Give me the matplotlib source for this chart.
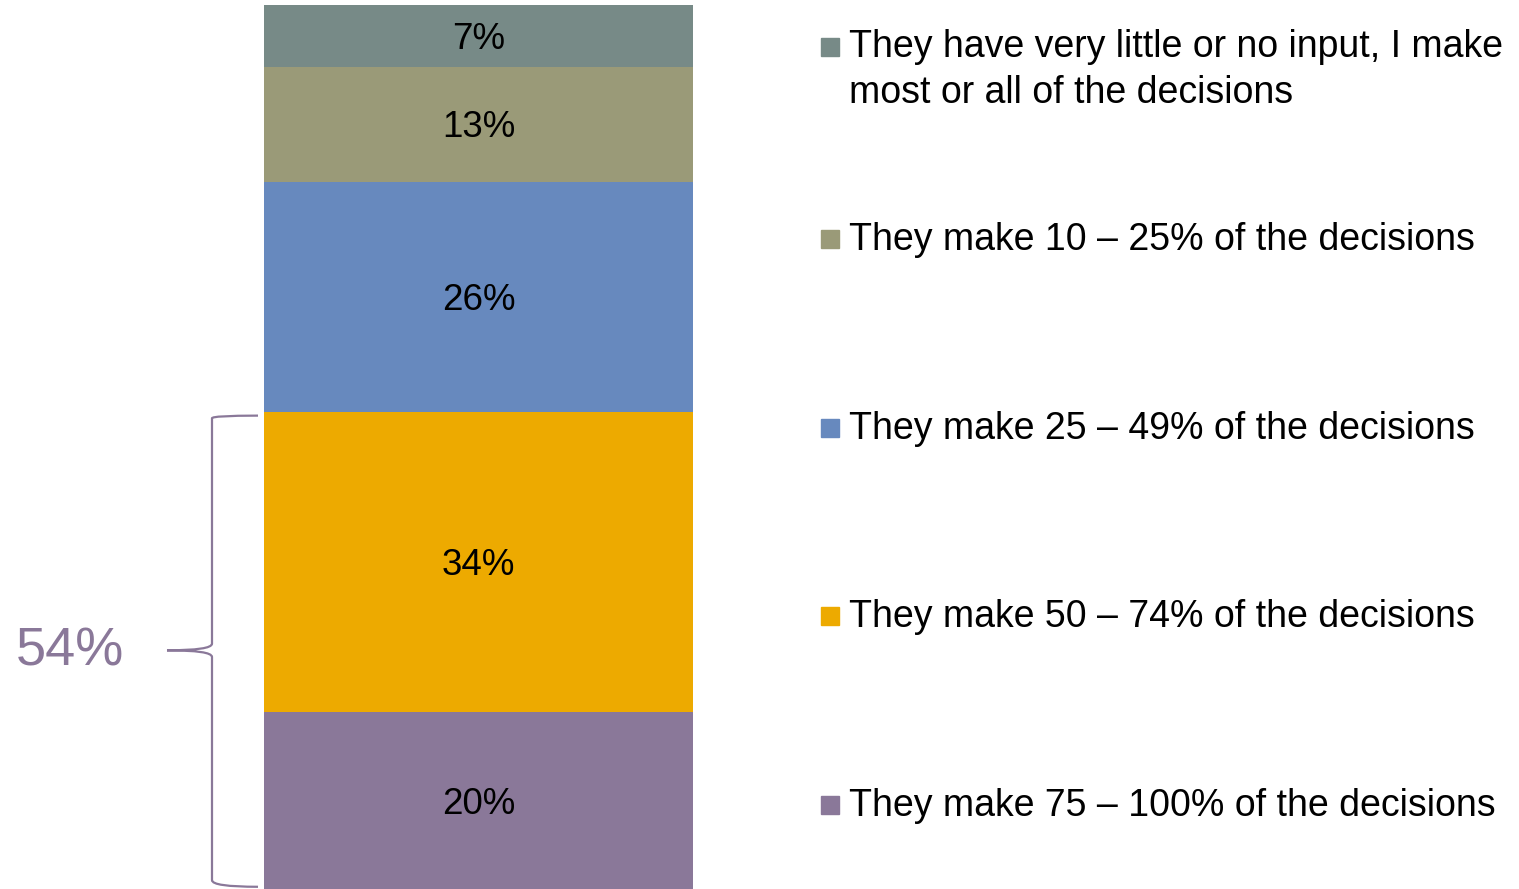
import matplotlib
matplotlib.use("Agg")
import matplotlib.pyplot as plt
from matplotlib.path import Path
from matplotlib.patches import PathPatch, Rectangle
from matplotlib.transforms import blended_transform_factory

plt.rcParams['font.family'] = ['Liberation Sans', 'DejaVu Sans']

# share of decisions, bottom segment first
shares = [20, 34, 26, 13, 7]
labels = ["They make 75 \u2013 100% of the decisions",
          "They make 50 \u2013 74% of the decisions",
          "They make 25 \u2013 49% of the decisions",
          "They make 10 \u2013 25% of the decisions",
          "They have very little or no input, I make\nmost or all of the decisions"]
colors = ["#8A7899", "#EDAA00", "#6789BE", "#9A9A78", "#778A87"]
bracket_total = "54%"
bracket_n = 2  # bottom segments covered by the brace

W, H = 1519, 889
fig = plt.figure(figsize=(W / 100, H / 100), dpi=100)
ax = fig.add_axes([264 / W, 0, 429 / W, 884 / H])

bottom = 0
for v, c in zip(shares, colors):
    ax.bar(0, v, width=1, bottom=bottom, color=c, linewidth=0)
    ax.annotate(f"{v}%", (0, bottom + v / 2), xytext=(0, -13),
                textcoords="offset pixels", ha="center", va="baseline",
                fontsize=26.5, color="black")
    bottom += v

ax.set_xlim(-0.5, 0.5)
ax.set_ylim(0, 100)
ax.axis("off")

# legend on the right, one entry per segment (baseline of first line in px)
legend_base = [816, 627, 439, 250, 58]
line_h = 45
for lab, c, y in zip(labels, colors, legend_base):
    fig.patches.append(Rectangle((821 / W, 1 - (y - 2) / H), 18 / W, 18 / H,
                                 transform=fig.transFigure, color=c))
    # va="baseline" anchors the last line, so shift multi-line entries down
    last = y + line_h * lab.count("\n")
    fig.text(849 / W, 1 - last / H, lab, ha="left", va="baseline",
             fontsize=27, color="black", linespacing=1.37)

# curly brace over the bottom segments
top = sum(shares[:bracket_n])
mid = top / 2
px = lambda x: x / W
tr = blended_transform_factory(fig.transFigure, ax.transData)
d = 0.75
verts = [(px(258), top - 0.45), (px(212), top - 0.45), (px(212), top - d),
         (px(212), mid + d),
         (px(212), mid), (px(167), mid),
         (px(212), mid), (px(212), mid - d),
         (px(212), 0.25 + d),
         (px(212), 0.25), (px(258), 0.25)]
codes = [Path.MOVETO, Path.CURVE3, Path.CURVE3,
         Path.LINETO,
         Path.CURVE3, Path.CURVE3,
         Path.CURVE3, Path.CURVE3,
         Path.LINETO,
         Path.CURVE3, Path.CURVE3]
brace = PathPatch(Path(verts, codes), transform=tr, fill=False,
                  edgecolor="#8A7899", linewidth=1.6, clip_on=False)
fig.patches.append(brace)

fig.text(70 / W, 1 - 665 / H, bracket_total, ha="center", va="baseline",
         fontsize=39, color="#8A7899")

fig.savefig("out.png", dpi=100)
